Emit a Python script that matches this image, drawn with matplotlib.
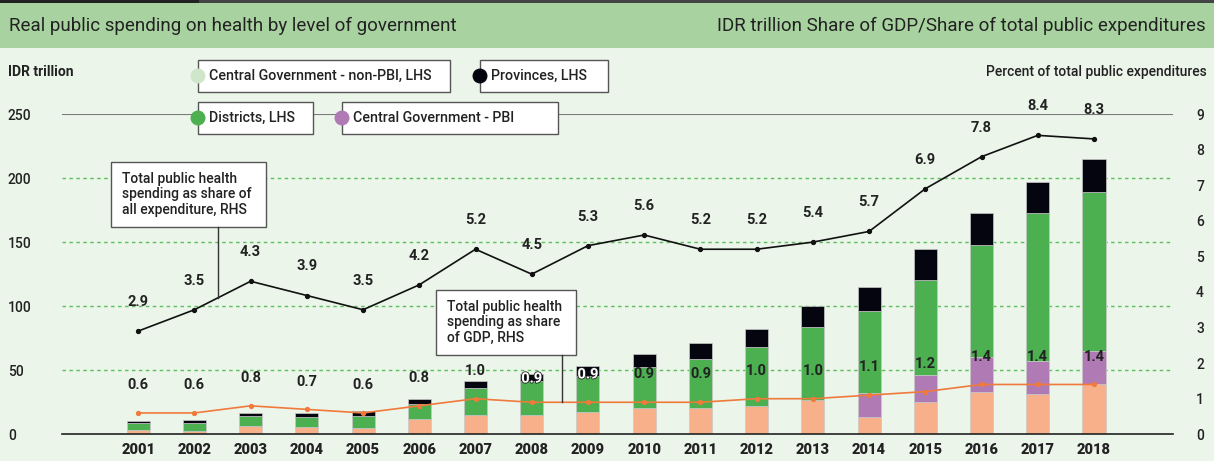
import numpy as np
import matplotlib
matplotlib.use("Agg")
import matplotlib.pyplot as plt
import matplotlib.patheffects as pe
from matplotlib.patches import Rectangle

plt.rcParams['font.family'] = ['Roboto', 'DejaVu Sans']

# 数据 (IDR trillion, LHS)
years = ["2001", "2002", "2003", "2004", "2005", "2006", "2007", "2008", "2009",
         "2010", "2011", "2012", "2013", "2014", "2015", "2016", "2017", "2018"]
central_non_pbi = [3.3, 2.7, 6.4, 5.9, 5.3, 11.9, 15.2, 15.2, 17.3, 20.5, 20.5,
                   22.3, 26.4, 13.7, 25.6, 33.4, 31.4, 39.5]
central_pbi = [0, 0, 0, 0, 0, 0, 0, 0, 0, 0, 0, 0, 0, 18.7, 20.6, 26.6, 26.0, 25.7]
districts = [5.3, 6.0, 8.1, 7.8, 8.9, 11.9, 20.9, 26.6, 28.4, 32.2, 37.9, 46.1,
             57.0, 63.5, 74.3, 87.8, 115.1, 123.7]
provinces = [1.6, 2.6, 2.3, 3.1, 3.6, 3.9, 5.7, 5.2, 7.8, 10.2, 12.8, 13.8,
             17.0, 19.1, 24.2, 25.2, 24.8, 26.1]

# 百分比 (RHS)
share_expenditure = [2.9, 3.5, 4.3, 3.9, 3.5, 4.2, 5.2, 4.5, 5.3, 5.6, 5.2, 5.2,
                     5.4, 5.7, 6.9, 7.8, 8.4, 8.3]
share_gdp = [0.6, 0.6, 0.8, 0.7, 0.6, 0.8, 1.0, 0.9, 0.9, 0.9, 0.9, 1.0, 1.0,
             1.1, 1.2, 1.4, 1.4, 1.4]

left_ticks = [0, 50, 100, 150, 200, 250]
right_ticks = list(range(10))

BG = "#ebf5ea"
HEAD = "#a8d3a0"
PEACH = "#f8b08a"
PURPLE = "#b07ab5"
GREEN = "#4caf50"
BLACK = "#05050f"
ORANGE = "#f07a3c"
LIGHTGREEN = "#cfe6cb"
TXT = "#222222"

W, H = 1214, 461
fig = plt.figure(figsize=(W / 100, H / 100), dpi=100, facecolor=BG)


def fx(px):
    return px / W


def fy(py):
    return 1 - py / H


# 标题栏
fig.patches.append(Rectangle((0, fy(48.3)), 1, fy(2.7) - fy(48.3), transform=fig.transFigure,
                             facecolor=HEAD, edgecolor="none", zorder=0))
fig.patches.append(Rectangle((0, fy(2.7)), 1, fy(0) - fy(2.7), transform=fig.transFigure,
                             facecolor="#444444", edgecolor="none", zorder=0))
fig.patches.append(Rectangle((0, fy(3.5)), fx(199), fy(0) - fy(3.5), transform=fig.transFigure,
                             facecolor="#222222", edgecolor="none", zorder=0))
fig.text(fx(9), fy(26), "Real public spending on health by level of government",
         fontsize=13.5, color=TXT, ha="left", va="center")
fig.text(fx(1206), fy(26), "IDR trillion Share of GDP/Share of total public expenditures",
         fontsize=13.5, color=TXT, ha="right", va="center")
fig.text(fx(8), fy(72), "IDR trillion", fontsize=10, fontweight="bold", color=TXT,
         ha="left", va="center")
fig.text(fx(1207), fy(72), "Percent of total public expenditures", fontsize=10,
         fontweight="medium", color=TXT, ha="right", va="center")

# 坐标轴
ax_left, ax_right = 61.7, 1172.7
ax_bottom, ax_top = 434.3, 114
ax = fig.add_axes([fx(ax_left), fy(ax_bottom), fx(ax_right - ax_left), fy(ax_top) - fy(ax_bottom)])
ax.set_facecolor("none")
x = np.arange(len(years))
ax.set_xlim(-1.36, 18.4)
ax.set_ylim(0, 250)

for v in left_ticks[1:-1]:
    ax.axhline(v, color="#5cbf5c", lw=1.0, ls=(0, (2.5, 2.5)), zorder=1)
ax.axhline(250, color="#7a7a7a", lw=1.5, zorder=1)

w = 0.41
edge = dict(edgecolor="#c8c8c8", linewidth=0.5, zorder=2)
b1 = np.array(central_non_pbi)
b2 = b1 + np.array(central_pbi)
b3 = b2 + np.array(districts)
ax.bar(x, central_non_pbi, w, color=PEACH, **edge)
ax.bar(x, central_pbi, w, bottom=b1, color=PURPLE, **edge)
ax.bar(x, districts, w, bottom=b2, color=GREEN, **edge)
ax.bar(x, provinces, w, bottom=b3, color=BLACK, **edge)

for s in ["top", "right", "left"]:
    ax.spines[s].set_visible(False)
ax.spines["bottom"].set_color("#222222")
ax.spines["bottom"].set_linewidth(1.2)
ax.spines["bottom"].set_zorder(5)

ax.set_xticks(x)
ax.set_xticklabels(years, fontsize=10.5, fontweight="black", color=TXT)
ax.tick_params(axis="x", length=0, pad=6)
ax.set_yticks(left_ticks)
ax.set_yticklabels([str(v) for v in left_ticks], fontsize=10, fontweight="medium", color=TXT)
ax.tick_params(axis="y", length=0, pad=38.7)
for lab in ax.get_yticklabels():
    lab.set_ha("left")

# 右轴
ax2 = ax.twinx()
ax2.set_ylim(0, 9)
ax2.set_yticks(right_ticks)
ax2.set_yticklabels([str(v) for v in right_ticks], fontsize=10, fontweight="medium", color=TXT)
ax2.tick_params(axis="y", length=0, pad=19.7)
for lab in ax2.get_yticklabels():
    lab.set_ha("center")
for s in ax2.spines.values():
    s.set_visible(False)

ax2.plot(x, share_expenditure, color="#111111", lw=1.2, marker="o", ms=2.8, zorder=6)
ax2.plot(x, share_gdp, color=ORANGE, lw=1.2, marker="o", ms=2.8, zorder=6)

for i in range(len(years)):
    ax2.annotate(f"{share_expenditure[i]:.1f}", (x[i], share_expenditure[i]), xytext=(0, 21),
                 textcoords="offset points", ha="center", va="center", fontsize=10.5,
                 fontweight="bold", color=TXT, zorder=8)
    if years[i] in ("2008", "2009"):
        off = 17 if years[i] == "2008" else 20
        ax2.annotate(f"{share_gdp[i]:.1f}", (x[i], share_gdp[i]), xytext=(0, off),
                     textcoords="offset points", ha="center", va="center", fontsize=10.5,
                     fontweight="bold", color="white", zorder=8,
                     path_effects=[pe.withStroke(linewidth=1.2, foreground="#222222")])
    else:
        ax2.annotate(f"{share_gdp[i]:.1f}", (x[i], share_gdp[i]), xytext=(0, 20),
                     textcoords="offset points", ha="center", va="center", fontsize=10.5,
                     fontweight="bold", color=TXT, zorder=8)


# 说明框
def callout(x0, x1, y0, y1, lead_x, series, text):
    ax2.add_patch(Rectangle((x0, y0), x1 - x0, y1 - y0, facecolor="white", edgecolor="#555555",
                            lw=1.0, zorder=7, clip_on=False))
    lead_y = np.interp(lead_x, x, series)
    ax2.plot([lead_x, lead_x], [lead_y, y0], color="#333333", lw=1.0, zorder=7, clip_on=False)
    ax2.text(x0 + 0.2, (y0 + y1) / 2, text, ha="left", va="center", fontsize=10,
             fontweight="medium", color=TXT, linespacing=1.15, zorder=8)


callout(-0.485, 2.27, 5.83, 7.66, 1.42, share_expenditure,
        "Total public health\nspending as share of\nall expenditure, RHS")
callout(5.30, 7.79, 2.24, 4.05, 7.53, share_gdp,
        "Total public health\nspending as share\nof GDP, RHS")

# 图例
legend_items = [
    (198, 60, 450, 92, LIGHTGREEN, "Central Government - non-PBI, LHS"),
    (480, 60, 608, 92, BLACK, "Provinces, LHS"),
    (198, 102, 313, 134, GREEN, "Districts, LHS"),
    (342, 102, 558, 134, PURPLE, "Central Government - PBI"),
]
for x0, y0, x1, y1, c, label in legend_items:
    fig.patches.append(Rectangle((fx(x0), fy(y1)), fx(x1 - x0), fy(y0) - fy(y1),
                                 transform=fig.transFigure, facecolor="white",
                                 edgecolor="#555555", lw=1.0, zorder=10))
    fig.text(fx(x0 + 11), fy((y0 + y1) / 2), label, fontsize=10.3, fontweight="medium",
             color=TXT, ha="left", va="center", zorder=12)

dot_ax = fig.add_axes([0, 0, 1, 1], facecolor="none")
dot_ax.set_zorder(20)
dot_ax.set_xlim(0, W)
dot_ax.set_ylim(H, 0)
dot_ax.axis("off")
dot_ax.scatter([it[0] for it in legend_items], [(it[1] + it[3]) / 2 for it in legend_items],
               s=95, c=[it[4] for it in legend_items], zorder=13)

fig.savefig("out.png", dpi=100, facecolor=BG)
